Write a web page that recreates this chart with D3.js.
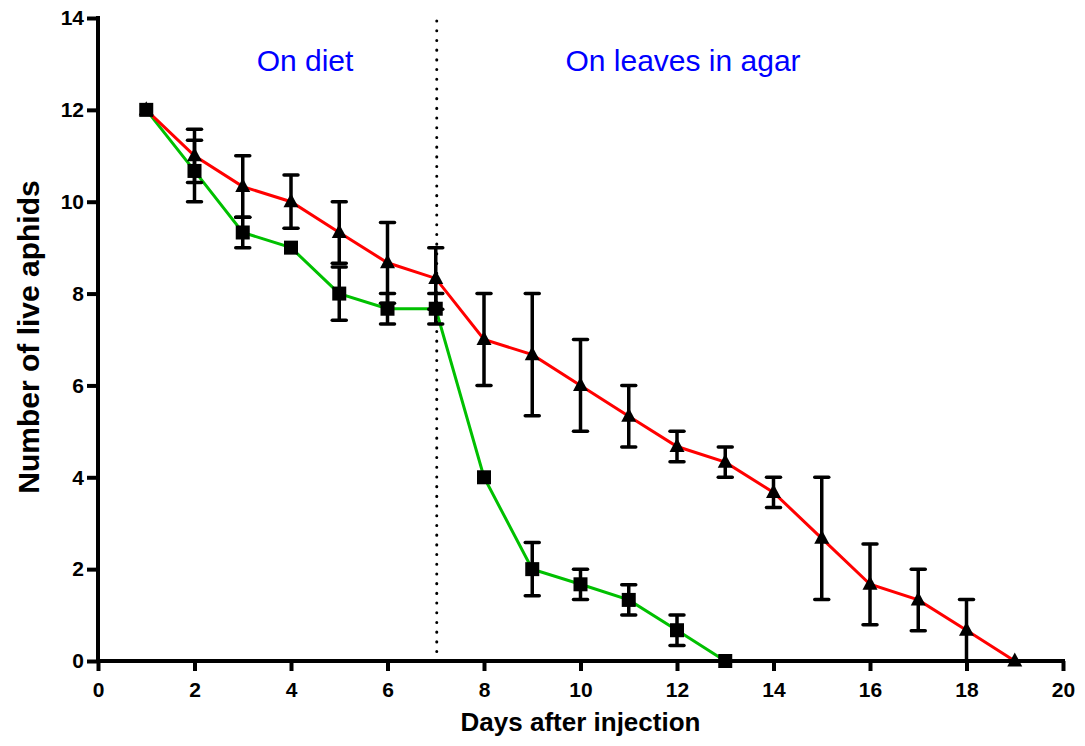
<!DOCTYPE html>
<html>
<head>
<meta charset="utf-8">
<script src="https://cdn.jsdelivr.net/npm/d3@7"></script>
<style>
  body { margin: 0; background: #fff; }
  svg text { font-family: "Liberation Sans", Arial, sans-serif; }
</style>
</head>
<body>
<svg id="chart" width="1085" height="746"></svg>
<script>
// days after injection
const days = [1, 2, 3, 4, 5, 6, 7, 8, 9, 10, 11, 12, 13, 14, 15, 16, 17, 18, 19];

// green series (squares) - mean and error, stops at day 13
const greenDays = [1, 2, 3, 4, 5, 6, 7, 8, 9, 10, 11, 12, 13];
const greenMean = [12, 10.67, 9.33, 9, 8, 7.67, 7.67, 4, 2, 1.67, 1.33, 0.67, 0];
const greenErr  = [0, 0.67, 0.33, 0, 0.58, 0.33, 0.33, 0, 0.58, 0.33, 0.33, 0.33, 0];

// red series (triangles)
const redMean = [12, 11, 10.33, 10, 9.33, 8.67, 8.33, 7, 6.67, 6, 5.33, 4.67, 4.33, 3.67, 2.67, 1.67, 1.33, 0.67, 0];
const redErr  = [0, 0.58, 0.67, 0.58, 0.67, 0.88, 0.67, 1, 1.33, 1, 0.67, 0.33, 0.33, 0.33, 1.33, 0.88, 0.67, 0.67, 0];

const xTicks = [0, 2, 4, 6, 8, 10, 12, 14, 16, 18, 20];
const yTicks = [0, 2, 4, 6, 8, 10, 12, 14];
const phaseSplit = 7;

const svg = d3.select("#chart");
const x = d3.scaleLinear().domain([0, 20]).range([98, 1063]);
const y = d3.scaleLinear().domain([0, 14]).range([661, 18]);

const toRows = function (xs, means, errs) {
    return xs.map(function (d, i) {
        return {x: d, y: means[i], e: errs[i]};
    });
};
const green = toRows(greenDays, greenMean, greenErr);
const red = toRows(days, redMean, redErr);

// dotted divider
svg.append("line")
    .attr("x1", x(phaseSplit) + 1).attr("x2", x(phaseSplit) + 1)
    .attr("y1", y(14) + 3).attr("y2", y(0))
    .attr("stroke", "#000").attr("stroke-width", 3)
    .attr("stroke-dasharray", "0.1,9.6").attr("stroke-linecap", "round");

// phase labels
svg.append("text").attr("x", 305).attr("y", 71)
    .attr("text-anchor", "middle").attr("fill", "#0000ff")
    .style("font-size", "30px").text("On diet");
svg.append("text").attr("x", 683).attr("y", 71)
    .attr("text-anchor", "middle").attr("fill", "#0000ff")
    .style("font-size", "30px").text("On leaves in agar");

// lines
const line = d3.line().x(function (d) { return x(d.x); }).y(function (d) { return y(d.y); });
svg.append("path").datum(green).attr("d", line)
    .attr("fill", "none").attr("stroke", "#00c000").attr("stroke-width", 3);
svg.append("path").datum(red).attr("d", line)
    .attr("fill", "none").attr("stroke", "#ff0000").attr("stroke-width", 3);

// error bars
const drawErrors = function (rows) {
    const g = svg.append("g").attr("stroke", "#000").attr("stroke-width", 3.5);
    rows.filter(function (d) { return d.e > 0; }).forEach(function (d) {
        const top = y(d.y + d.e), bot = y(Math.max(0, d.y - d.e));
        g.append("line").attr("x1", x(d.x)).attr("x2", x(d.x)).attr("y1", top).attr("y2", bot);
        g.append("line").attr("x1", x(d.x) - 7).attr("x2", x(d.x) + 7).attr("y1", top).attr("y2", top)
            .attr("stroke-linecap", "round");
        if (d.y - d.e > 0.01) {
            g.append("line").attr("x1", x(d.x) - 7).attr("x2", x(d.x) + 7).attr("y1", bot).attr("y2", bot)
                .attr("stroke-linecap", "round");
        }
    });
};
drawErrors(red);
drawErrors(green);

// markers
svg.append("g").selectAll("path").data(red).join("path")
    .attr("transform", function (d) { return "translate(" + x(d.x) + "," + y(d.y) + ")"; })
    .attr("d", "M0,-8.5L7.5,5.5L-7.5,5.5Z").attr("fill", "#000");
svg.append("g").selectAll("rect").data(green).join("rect")
    .attr("x", function (d) { return x(d.x) - 7; })
    .attr("y", function (d) { return y(d.y) - 7; })
    .attr("width", 14).attr("height", 14).attr("fill", "#000");

// axes
const xAxis = svg.append("g").attr("transform", "translate(0," + y(0) + ")")
    .call(d3.axisBottom(x).tickValues(xTicks).tickSize(10).tickPadding(11).tickSizeOuter(0));
const yAxis = svg.append("g").attr("transform", "translate(" + x(0) + ",0)")
    .call(d3.axisLeft(y).tickValues(yTicks).tickSize(11).tickPadding(3).tickSizeOuter(0));
[xAxis, yAxis].forEach(function (ax) {
    ax.select(".domain").attr("stroke", "#000").attr("stroke-width", 4);
    ax.selectAll(".tick line").attr("stroke", "#000").attr("stroke-width", 4);
    ax.selectAll(".tick text").attr("fill", "#000")
        .style("font-family", "'Liberation Sans', Arial, sans-serif")
        .style("font-size", "21px").style("font-weight", "bold");
});
// extend domains slightly so the corner closes
xAxis.select(".domain").attr("d", "M" + (x(0) - 2) + ",0H" + (x(20) + 2));
yAxis.select(".domain").attr("d", "M0," + (y(14) - 2) + "V" + (y(0) + 2));

// axis titles
svg.append("text").attr("x", x(10)).attr("y", 731)
    .attr("text-anchor", "middle").style("font-size", "26px").style("font-weight", "bold")
    .text("Days after injection");
svg.append("text").attr("transform", "translate(39,337) rotate(-90)")
    .attr("text-anchor", "middle").style("font-size", "30px").style("font-weight", "bold")
    .text("Number of live aphids");
</script>
</body>
</html>
